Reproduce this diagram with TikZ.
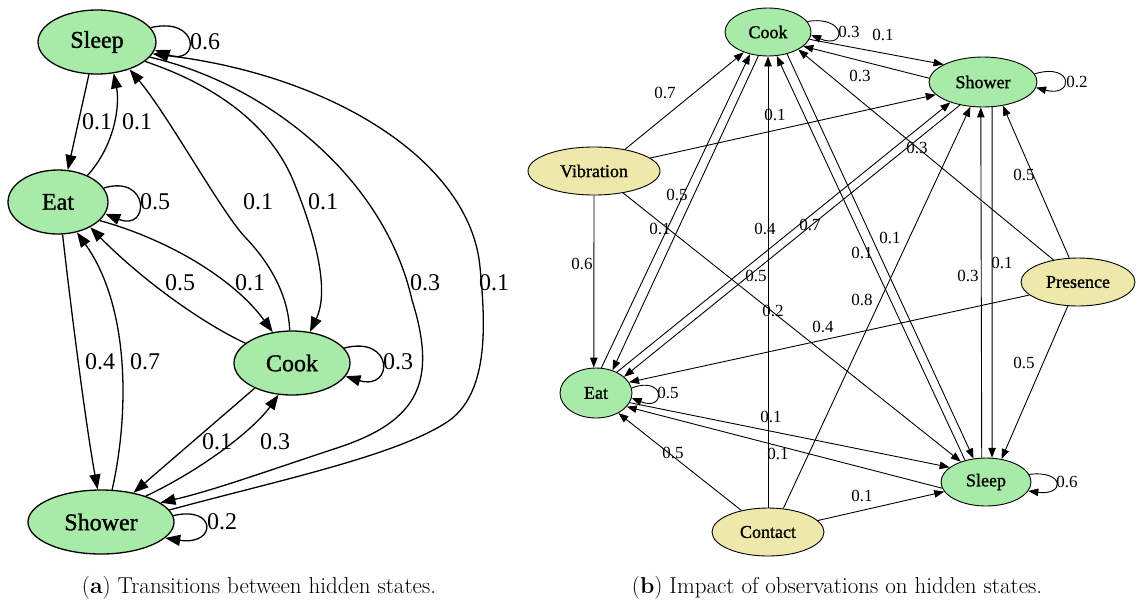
\documentclass[tikz,border=0pt]{standalone}
\usepackage{fontspec}
\usetikzlibrary{arrows.meta,shapes.geometric}
\newfontfamily\gvfont{Liberation Serif}
\newfontfamily\gvbold{Liberation Serif}[FakeBold=1.2]
\definecolor{hgreen}{HTML}{A8EAA8}
\definecolor{oyellow}{HTML}{EEE8AA}
\begin{document}
\begin{tikzpicture}[x=1pt,y=-1pt,
 lnode/.style={ellipse, draw, line width=1.3pt, fill=hgreen, inner sep=0pt, font=\gvbold\fontsize{24}{28}\selectfont},
 ledge/.style={line width=1.3pt, -{Triangle[length=15pt,width=11pt]}},
 llab/.style={font=\gvfont\fontsize{24}{28}\selectfont, inner sep=0pt},
 rnode/.style={ellipse, draw, line width=0.9pt, inner sep=0pt, font=\gvbold\fontsize{18}{22}\selectfont},
 hs/.style={rnode, fill=hgreen},
 obs/.style={rnode, fill=oyellow},
 redge/.style={line width=0.9pt, -{Triangle[length=10pt,width=7.5pt]}},
 rlab/.style={font=\gvfont\fontsize{17}{20}\selectfont, inner sep=0pt},
 captxt/.style={font=\fontsize{23}{27}\selectfont, inner sep=0pt}]
\useasboundingbox (0,0) rectangle (1139,603);
% ---------------- left diagram ----------------
\node[lnode, minimum width=118pt, minimum height=64pt] (lSl) at (97,42) {Sleep};
\node[lnode, minimum width=100pt, minimum height=64pt] (lEa) at (58,202) {Eat};
\node[lnode, minimum width=116pt, minimum height=64pt] (lCo) at (292,363) {Cook};
\node[lnode, minimum width=146pt, minimum height=64pt] (lSh) at (101,522) {Shower};

\draw[ledge] (lSl.15) .. controls (200,16) and (200,66) .. (lSl.-8);
\draw[ledge] (lSl.-104) -- (lEa.73);
\draw[ledge] (lEa.42) .. controls (115,145) and (120,105) .. (lSl.-62);
\draw[ledge] (lEa.17) .. controls (150,174) and (150,232) .. (lEa.-14);
\draw[ledge] (lCo.94) .. controls (288,290) and (265,258) .. (245,237) .. controls (222,213) and (168,115) .. (lSl.-40);
\draw[ledge] (lSl.-22) .. controls (215,85) and (272,125) .. (295,185) .. controls (315,235) and (330,290) .. (lCo.60);
\draw[ledge] (lSl.-16) .. controls (270,85) and (385,180) .. (412,300) .. controls (437,380) and (420,420) .. (340,447) .. controls (270,470) and (215,490) .. (lSh.18);
\draw[ledge] (lSh.10) .. controls (280,480) and (400,455) .. (450,420) .. controls (490,390) and (485,320) .. (480,267) .. controls (470,160) and (330,75) .. (lSl.-12);
\draw[ledge] (lEa.-24) .. controls (170,240) and (235,280) .. (lCo.122);
\draw[ledge] (lCo.157) .. controls (200,322) and (140,278) .. (lEa.-38);
\draw[ledge] (lEa.-82) .. controls (70,300) and (85,420) .. (lSh.96);
\draw[ledge] (lSh.71) .. controls (128,420) and (132,310) .. (lEa.-58);
\draw[ledge] (lCo.16) .. controls (394,335) and (394,391) .. (lCo.-14);
\draw[ledge] (lCo.-146) -- (lSh.42);
\draw[ledge] (lSh.30) .. controls (205,468) and (255,428) .. (lCo.-113);
\draw[ledge] (lSh.5) .. controls (217,505) and (217,546) .. (lSh.-14);

\node[llab] (la1) at (205,42) {0.6};
\node[llab] (la2) at (97,122) {0.1};
\node[llab] (la3) at (137,122) {0.1};
\node[llab] (la4) at (155,202) {0.5};
\node[llab] (la5) at (258,202) {0.1};
\node[llab] (la6) at (323,202) {0.1};
\node[llab] (la7) at (425,283) {0.3};
\node[llab] (la8) at (494,283) {0.1};
\node[llab] (la9) at (180,283) {0.5};
\node[llab] (la10) at (250,283) {0.1};
\node[llab] (la11) at (100,362) {0.4};
\node[llab] (la12) at (145,362) {0.7};
\node[llab] (la13) at (398,362) {0.3};
\node[llab] (la14) at (217,442) {0.1};
\node[llab] (la15) at (275,442) {0.3};
\node[llab] (la16) at (222,522) {0.2};

% ---------------- right diagram ----------------
\node[hs, minimum width=86pt, minimum height=48pt] (rCo) at (768,32) {Cook};
\node[hs, minimum width=108pt, minimum height=50pt] (rSh) at (983,82) {Shower};
\node[obs, minimum width=132pt, minimum height=48pt] (rVi) at (594,171) {Vibration};
\node[obs, minimum width=114pt, minimum height=48pt] (rPr) at (1078,282) {Presence};
\node[hs, minimum width=72pt, minimum height=50pt] (rEa) at (596,393) {Eat};
\node[hs, minimum width=90pt, minimum height=48pt] (rSl) at (986,482) {Sleep};
\node[obs, minimum width=112pt, minimum height=48pt] (rCt) at (768,532) {Contact};

% transitions
\draw[redge] (rCo.15) .. controls (847,15) and (847,50) .. (rCo.-4);
\draw[redge] (rCo.-10) -- (rSh.156);
\draw[redge] (rSh.176) -- (rCo.-22);
\draw[redge] (rSh.9) .. controls (1074,62) and (1074,98) .. (rSh.-6);
\draw[redge] (rEa.78) -- (rCo.-129);
\draw[redge] (rCo.-112) -- (rEa.54);
\draw[redge] (rEa.45) -- (rSh.-148);
\draw[redge] (rSh.-135) -- (rEa.30);
\draw[redge] (rEa.8) .. controls (666,375) and (666,412) .. (rEa.-8);
\draw[redge] (rEa.-16) -- (rSl.158);
\draw[redge] (rSl.-172) -- (rEa.-24);
\draw[redge] (rCo.-49) -- (rSl.118);
\draw[redge] (rSl.134) -- (rCo.-70);
\draw[redge] (rSl.100) -- (rSh.-95);
\draw[redge] (rSh.-70) -- (rSl.76);
\draw[redge] (rSl.10) .. controls (1065,470) and (1065,496) .. (rSl.-12);
% observations
\draw[redge] (rVi.35) -- (rCo.-140);
\draw[redge] (rVi.13) -- (rSh.-165);
\draw[redge] (rVi.-90) -- (rEa.95);
\draw[redge] (rVi.-37) -- (rSl.141);
\draw[redge] (rPr.138) -- (rCo.-30);
\draw[redge] (rPr.110) -- (rSh.-50);
\draw[redge] (rPr.-165) -- (rEa.18);
\draw[redge] (rPr.-113) -- (rSl.56);
\draw[redge] (rCt.90) -- (rCo.-90);
\draw[redge] (rCt.57) -- (rSh.-117);
\draw[redge] (rCt.141) -- (rEa.-42);
\draw[redge] (rCt.13) -- (rSl.-167);

\node[rlab] (ra1) at (849,32) {0.3};
\node[rlab] (ra2) at (883,35) {0.1};
\node[rlab] (ra3) at (860,76) {0.3};
\node[rlab] (ra4) at (1077,82) {0.2};
\node[rlab] (ra5) at (665,93) {0.7};
\node[rlab] (ra6) at (775,115) {0.1};
\node[rlab] (ra7) at (917,148) {0.3};
\node[rlab] (ra8) at (1024,175) {0.5};
\node[rlab] (ra9) at (677,195) {0.5};
\node[rlab] (ra10) at (660,229) {0.1};
\node[rlab] (ra11) at (765,229) {0.4};
\node[rlab] (ra12) at (810,225) {0.7};
\node[rlab] (ra13) at (862,253) {0.1};
\node[rlab] (ra14) at (890,238) {0.1};
\node[rlab] (ra15) at (582,264) {0.6};
\node[rlab] (ra16) at (756,276) {0.5};
\node[rlab] (ra17) at (968,276) {0.3};
\node[rlab] (ra18) at (1002,263) {0.1};
\node[rlab] (ra19) at (862,300) {0.8};
\node[rlab] (ra20) at (773,311) {0.2};
\node[rlab] (ra21) at (823,327) {0.4};
\node[rlab] (ra22) at (1024,363) {0.5};
\node[rlab] (ra23) at (668,393) {0.5};
\node[rlab] (ra24) at (771,417) {0.1};
\node[rlab] (ra25) at (778,454) {0.1};
\node[rlab] (ra26) at (673,453) {0.5};
\node[rlab] (ra27) at (862,496) {0.1};
\node[rlab] (ra28) at (1067,482) {0.6};

% captions
\node[captxt] (capa) at (259,588) {(\textbf{a}) Transitions between hidden states.};
\node[captxt] (capb) at (837,588) {(\textbf{b}) Impact of observations on hidden states.};
\end{tikzpicture}
\end{document}
